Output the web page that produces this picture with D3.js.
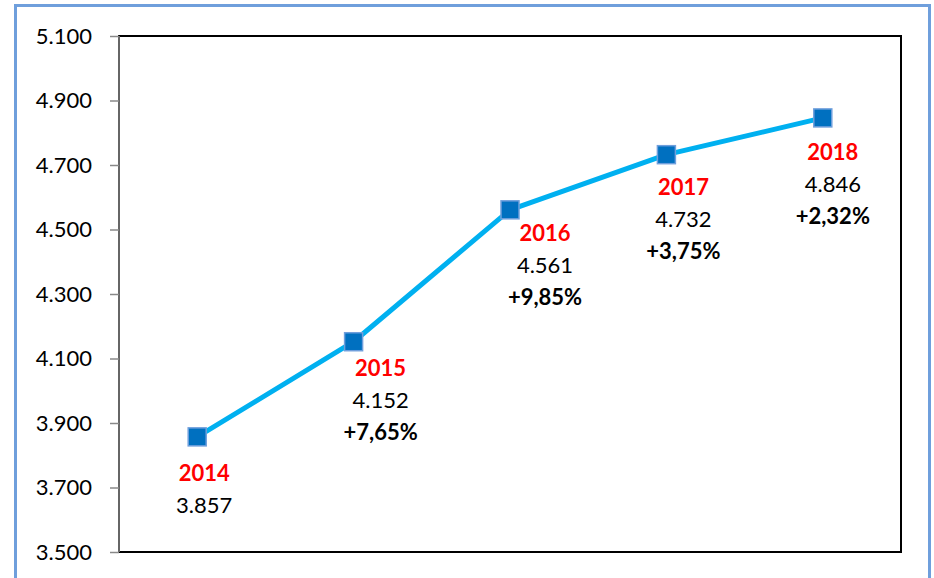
<!DOCTYPE html>
<head>
  <meta charset="utf-8">
  <title>Chart</title>
  <script src="https://d3js.org/d3.v7.min.js"></script>
  <style>
    body { margin: 0; background: #fff; }
    .axis text { font-family: Lato, "Open Sans", sans-serif; font-size: 22px; fill: #000; }
    .axis path, .axis line { stroke: #888; stroke-width: 1.5; }
    .lbl { font-family: Lato, "Open Sans", sans-serif; font-size: 22px; text-anchor: middle; }
  </style>
</head>
<body>
<script>
  var years = ["2014", "2015", "2016", "2017", "2018"];
  var values = [3857, 4152, 4561, 4732, 4846];
  var valueLabels = ["3.857", "4.152", "4.561", "4.732", "4.846"];
  var growthLabels = ["", "+7,65%", "+9,85%", "+3,75%", "+2,32%"];
  var yTicks = [3500, 3700, 3900, 4100, 4300, 4500, 4700, 4900, 5100];

  // hand-placed label nudges (px), like the original
  var labelDx = [7, 27, 35, 17, 10];
  var labelDy = [36, 27, 23, 33, 34];

  var w = 934, h = 578;
  var plotL = 119, plotR = 901, plotT = 36, plotB = 552;

  var svg = d3.select("body").append("svg")
    .attr("width", w).attr("height", h);

  // outer frame
  svg.append("rect")
    .attr("x", 15.5).attr("y", 5.5)
    .attr("width", 914).attr("height", 590)
    .attr("fill", "none").attr("stroke", "#6f9fdc").attr("stroke-width", 3);

  var xScale = d3.scaleBand().domain(years).range([plotL, plotR]);
  var yScale = d3.scaleLinear().domain([3500, 5100]).range([plotB, plotT]);

  // plot frame
  svg.append("rect")
    .attr("x", plotL).attr("y", plotT)
    .attr("width", plotR - plotL).attr("height", plotB - plotT)
    .attr("fill", "none").attr("stroke", "#000").attr("stroke-width", 2);

  var yAxis = d3.axisLeft(yScale)
    .tickValues(yTicks)
    .tickSize(9)
    .tickPadding(18)
    .tickFormat(function(d){ return d3.format(".3f")(d / 1000); });

  svg.append("g")
    .attr("class", "axis")
    .attr("transform", "translate(" + plotL + ",0)")
    .call(yAxis)
    .call(function(g){ g.select(".domain").attr("d", "M0," + plotT + "V" + plotB); });

  var cx = function(i){ return xScale(years[i]) + xScale.bandwidth() / 2; };

  var line = d3.line()
    .x(function(d, i){ return cx(i); })
    .y(function(d){ return yScale(d); });

  svg.append("path")
    .datum(values)
    .attr("d", line)
    .attr("fill", "none")
    .attr("stroke", "#00b0f0")
    .attr("stroke-width", 5)
    .attr("stroke-linejoin", "round");

  svg.selectAll("rect.pt")
    .data(values)
    .enter()
    .append("rect")
    .attr("class", "pt")
    .attr("x", function(d, i){ return cx(i) - 9; })
    .attr("y", function(d){ return yScale(d) - 9; })
    .attr("width", 18).attr("height", 18)
    .attr("fill", "#0070c0")
    .attr("stroke", "#6f9fdc")
    .attr("stroke-width", 1.5);

  var g = svg.selectAll("g.lab")
    .data(values)
    .enter()
    .append("g")
    .attr("class", "lab")
    .attr("transform", function(d, i){
      return "translate(" + (cx(i) + labelDx[i]) + "," + (yScale(d) + labelDy[i]) + ")";
    });

  g.append("text").attr("class", "lbl")
    .attr("dy", "0.35em")
    .attr("fill", "#ff0000").attr("font-weight", "bold")
    .text(function(d, i){ return years[i]; });

  g.append("text").attr("class", "lbl")
    .attr("y", 32).attr("dy", "0.35em")
    .attr("fill", "#000")
    .text(function(d, i){ return valueLabels[i]; });

  g.append("text").attr("class", "lbl")
    .attr("y", 64).attr("dy", "0.35em")
    .attr("fill", "#000").attr("font-weight", "bold")
    .text(function(d, i){ return growthLabels[i]; });
</script>
</body>
</html>
